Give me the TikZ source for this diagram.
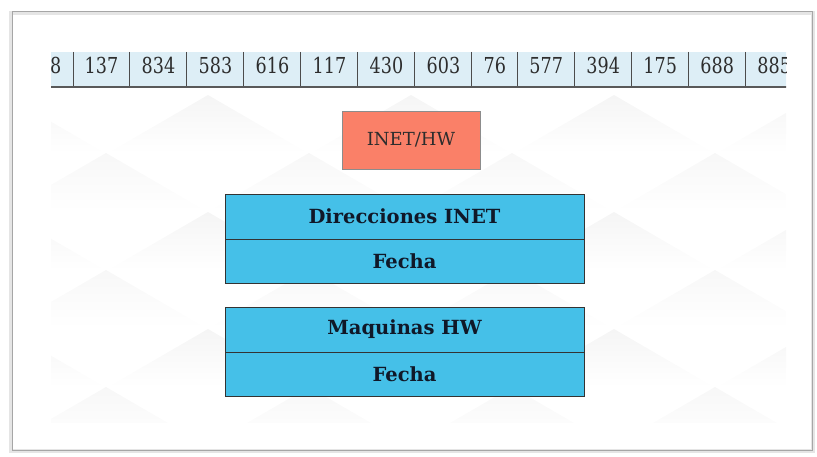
\documentclass[tikz,border=0pt]{standalone}
\usepackage{fontspec}
\setmainfont{DejaVu Serif}
\usetikzlibrary{positioning}
\definecolor{stripblue}{RGB}{221,238,246}
\definecolor{salmonbox}{RGB}{250,128,104}
\definecolor{tableblue}{RGB}{69,192,232}
\definecolor{inkgray}{RGB}{45,45,45}
\definecolor{inkdark}{RGB}{16,24,40}
\newcommand{\cellnum}[1]{\scalebox{0.8}[1]{#1}}

\begin{document}
\begin{tikzpicture}[x=1pt,y=-1pt,
    cell/.style={fill=stripblue,text=inkgray,font=\fontsize{22}{22}\selectfont,inner xsep=11.7pt,inner ysep=0pt,text height=21.3pt,text depth=13.7pt,outer sep=0pt},
    sep/.style={draw=black!70,line width=1pt},
    row/.style={draw=black!80,fill=tableblue,text=inkdark,font=\fontsize{19.5}{19.5}\selectfont\bfseries,minimum width=359pt,minimum height=44.5pt,inner sep=0pt,outer sep=0pt}]
    \useasboundingbox (0,0) rectangle (817,457);
    % frame
    \draw[black!10,line width=4pt] (11,13) rectangle (813,451);
    \draw[black!35,line width=1pt] (12,12) rectangle (812,450);
    % faint background pattern
    \begin{scope}
      \clip (51,88) rectangle (786,422);
      \foreach \x in {5,208,411,614,817} \foreach \y in {95,212,329}
        \shade[top color=black!4,bottom color=white] (\x,\y) -- (\x+100,\y+58) -- (\x-100,\y+58) -- cycle;
      \foreach \x in {106,309,512,715} \foreach \y in {153,270,387}
        \shade[top color=black!3,bottom color=white] (\x,\y) -- (\x+100,\y+58) -- (\x-100,\y+58) -- cycle;
    \end{scope}
    % number strip
    \begin{scope}
      \clip (51,40) rectangle (786,90);
      \node[cell,anchor=north east] (n0) at (73,52) {\cellnum{8}};
      \node[cell,right=0pt of n0] (n1) {\cellnum{137}}; \node[cell,right=0pt of n1] (n2) {\cellnum{834}};
      \node[cell,right=0pt of n2] (n3) {\cellnum{583}}; \node[cell,right=0pt of n3] (n4) {\cellnum{616}};
      \node[cell,right=0pt of n4] (n5) {\cellnum{117}}; \node[cell,right=0pt of n5] (n6) {\cellnum{430}};
      \node[cell,right=0pt of n6] (n7) {\cellnum{603}}; \node[cell,right=0pt of n7] (n8) {\cellnum{76}};
      \node[cell,right=0pt of n8] (n9) {\cellnum{577}}; \node[cell,right=0pt of n9] (n10) {\cellnum{394}};
      \node[cell,right=0pt of n10] (n11) {\cellnum{175}}; \node[cell,right=0pt of n11] (n12) {\cellnum{688}};
      \node[cell,right=0pt of n12] (n13) {\cellnum{885}};
      \foreach \c in {n0,n1,n2,n3,n4,n5,n6,n7,n8,n9,n10,n11,n12}
        \draw[sep] (\c.north east) -- (\c.south east);
      \draw[black!65,line width=1.5pt] (n0.south west) -- (n13.south east);
    \end{scope}
    % key and tables
    \node[draw=black!45,fill=salmonbox,text=inkgray,font=\fontsize{18}{18}\selectfont,minimum width=138pt,minimum height=58pt,inner sep=0pt] (key) at (411,140) {INET/HW};
    \node[row] (inet) at (404.5,216.5) {Direcciones INET};
    \node[row,below=0pt of inet] (inetf) {Fecha};
    \node[row] (hw) at (404.5,329.5) {Maquinas HW};
    \node[row,below=0pt of hw] (hwf) {Fecha};
  \end{tikzpicture}
\end{document}
